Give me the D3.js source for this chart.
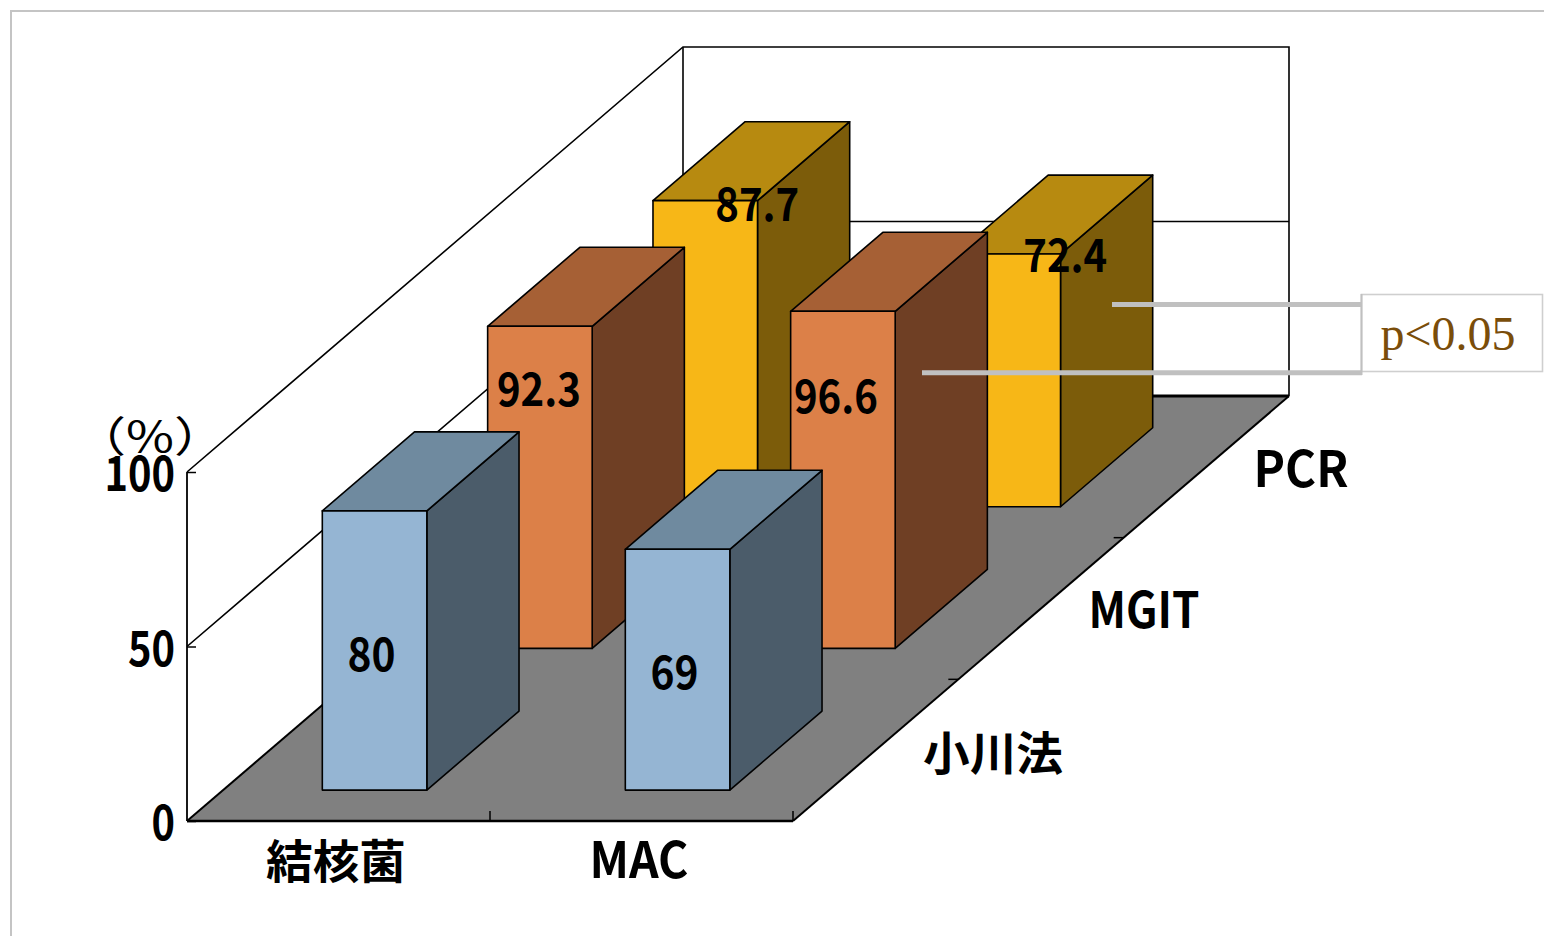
<!DOCTYPE html>
<html><head><meta charset="utf-8">
<script src="https://cdnjs.cloudflare.com/ajax/libs/d3/7.8.5/d3.min.js"></script>
<style>
html,body{margin:0;padding:0;background:#fff;overflow:hidden}
svg{display:block}
text{font-family:"Noto Sans CJK JP","Noto Sans",sans-serif;font-weight:700;fill:#000}
</style></head><body>
<svg id="chart" width="1544" height="936"></svg>
<script>
// ---- data ----
const categories = ["結核菌", "MAC"];
const series = ["小川法", "MGIT", "PCR"];
const ogawaValues = [80, 69];
const mgitValues = [92.3, 96.6];
const pcrValues = [87.7, 72.4];
const yTicks = [0, 50, 100];
const yUnit = "（%）";
const annotation = "p<0.05";

// ---- styles and layout ----
const faceColors = [
  {front:"#95b5d3", top:"#6f8a9f", side:"#4b5c6a"},
  {front:"#dc8048", top:"#a66035", side:"#6f3f24"},
  {front:"#f7b717", top:"#b78a10", side:"#7c5c0a"}
];
const labelOffsets = [
  [[-3,143],[-3,123]],
  [[-1,63],[-7,85]],
  [[52,3],[57,1]]
];
const allValues = [ogawaValues, mgitValues, pcrValues];
const origin = {x:187, y:821};
const plotW = 606, wallH = 349;
const depthVec = {x:496, y:-425};

const svg = d3.select("#chart");

const xBand = d3.scaleBand().domain(categories).range([0, plotW]).paddingInner(0.655).paddingOuter(0.3275);
const zBand = d3.scaleBand().domain(series).range([-0.001, 0.999]).paddingInner(0.4425).paddingOuter(0.2212);
const h = d3.scaleLinear().domain([0,100]).range([0, wallH]);
const y = d3.scaleLinear().domain([0,100]).range([origin.y, origin.y - wallH]);

const P = (px, z, v) => [origin.x + px + z*depthVec.x, origin.y + z*depthVec.y - h(v)];
const line = pts => "M" + pts.map(p=>p.join(",")).join("L") + "Z";
const open = pts => "M" + pts.map(p=>p.join(",")).join("L");

// panel border
svg.append("path").attr("d","M11,936V11H1544").attr("stroke","#c4c4c4").attr("stroke-width",2).attr("fill","none");

// walls + floor
const axes = svg.append("g").attr("fill","none").attr("stroke","#000");
axes.append("path").attr("d", line([P(0,0,0),P(plotW,0,0),P(plotW,1,0),P(0,1,0)])).attr("fill","#808080").attr("stroke","none");
axes.append("path").attr("stroke-width",1.6).attr("d", open([P(0,0,100),P(0,1,100),P(plotW,1,100),P(plotW,1,0)]));
axes.append("path").attr("stroke-width",1.6).attr("d", open([P(0,0,50),P(0,1,50),P(plotW,1,50)]));
axes.append("path").attr("stroke-width",1.6).attr("d", open([P(0,1,100),P(0,1,0)]));
axes.append("path").attr("stroke-width",3).attr("d", open([P(0,1,0),P(plotW,1,0)]));
axes.append("path").attr("stroke-width",2).attr("d", open([P(0,1,0),P(0,0,0)]));
axes.append("path").attr("stroke-width",2).attr("d", open([P(plotW,0,0),P(plotW,1,0)]));
axes.append("path").attr("stroke-width",2.4).attr("d", open([P(0,0,0),P(plotW,0,0)]));

// y axis
const yAxis = d3.axisLeft(y).tickValues(yTicks).tickSize(-9).tickPadding(12);
const yG = svg.append("g").attr("transform",`translate(${origin.x},0)`).call(yAxis);
yG.select(".domain").remove();
svg.append("path").attr("d",open([P(0,0,0),P(0,0,100)])).attr("stroke","#000").attr("stroke-width",1.8).attr("fill","none");
yG.selectAll(".tick line").attr("stroke","#000").attr("stroke-width",1.5);
yG.selectAll(".tick text").attr("font-size",48).attr("dy","0.39em")
  .attr("textLength",d=>String(d).length*23.5).attr("lengthAdjust","spacingAndGlyphs")
  .style("font-family",'"Noto Sans CJK JP"').attr("fill","#000");

// floor ticks
svg.append("g").selectAll("path").data(d3.range(1, categories.length+1)).join("path")
  .attr("d",i=>{const p=P(plotW*i/categories.length,0,0);return `M${p[0]},${p[1]}v-10`;})
  .attr("stroke","#000").attr("stroke-width",1.5);
svg.append("g").selectAll("path").data(d3.range(1, series.length)).join("path")
  .attr("d",i=>{const p=P(plotW,i/series.length,0);return `M${p[0]},${p[1]}h-10`;})
  .attr("stroke","#000").attr("stroke-width",1.5);

// bars, back to front
const barData = [];
for (let s = series.length-1; s >= 0; s--) categories.forEach((c,i)=>barData.push({s,i,c,name:series[s],v:allValues[s][i]}));
const bars = svg.append("g").attr("stroke","#000").attr("stroke-width",1.6).attr("stroke-linejoin","round");
const bar = bars.selectAll("g").data(barData).join("g");
const x0 = d=>xBand(d.c), x1 = d=>xBand(d.c)+xBand.bandwidth();
const z0 = d=>zBand(d.name), z1 = d=>zBand(d.name)+zBand.bandwidth();
bar.append("path").attr("fill",d=>faceColors[d.s].side)
  .attr("d",d=>line([P(x1(d),z0(d),0),P(x1(d),z1(d),0),P(x1(d),z1(d),d.v),P(x1(d),z0(d),d.v)]));
bar.append("path").attr("fill",d=>faceColors[d.s].top)
  .attr("d",d=>line([P(x0(d),z0(d),d.v),P(x1(d),z0(d),d.v),P(x1(d),z1(d),d.v),P(x0(d),z1(d),d.v)]));
bar.append("path").attr("fill",d=>faceColors[d.s].front)
  .attr("d",d=>line([P(x0(d),z0(d),0),P(x1(d),z0(d),0),P(x1(d),z0(d),d.v),P(x0(d),z0(d),d.v)]));

// value labels on top of all bars
svg.append("g").selectAll("text").data(barData).join("text")
  .attr("x",d=>P(xBand(d.c)+xBand.bandwidth()/2,z0(d),d.v)[0]+labelOffsets[d.s][d.i][0])
  .attr("y",d=>P(0,z0(d),d.v)[1]+labelOffsets[d.s][d.i][1]+17)
  .attr("text-anchor","middle").attr("font-size",46)
  .attr("textLength",d=>String(d.v).includes(".")?84:48)
  .attr("lengthAdjust","spacingAndGlyphs")
  .text(d=>d.v);

// category labels
const categoryLabelPos = [[336,878,46,140],[639,878,50,99]];
svg.append("g").selectAll("text").data(categories).join("text")
  .attr("x",(c,i)=>categoryLabelPos[i][0]).attr("y",(c,i)=>categoryLabelPos[i][1])
  .attr("text-anchor","middle").attr("font-size",(c,i)=>categoryLabelPos[i][2])
  .attr("textLength",(c,i)=>categoryLabelPos[i][3]).attr("lengthAdjust","spacingAndGlyphs")
  .text(c=>c);

// series labels
const seriesLabelPos = [[993,770,46,140],[1144,628,50,111],[1301,487,50,95]];
svg.append("g").selectAll("text").data(series).join("text")
  .attr("x",(d,i)=>seriesLabelPos[i][0]).attr("y",(d,i)=>seriesLabelPos[i][1])
  .attr("text-anchor","middle").attr("font-size",(d,i)=>seriesLabelPos[i][2])
  .attr("textLength",(d,i)=>seriesLabelPos[i][3]).attr("lengthAdjust","spacingAndGlyphs")
  .text(d=>d);

// unit label
svg.append("text").attr("x",150).attr("y",452).attr("text-anchor","middle")
  .style("font-weight",400).attr("font-size",42).attr("textLength",152).attr("lengthAdjust","spacingAndGlyphs").text(yUnit);

// annotation
const ann = svg.append("g");
ann.append("rect").attr("x",1361.5).attr("y",294.5).attr("width",181).attr("height",77)
  .attr("fill","#fff").attr("stroke","#cfcfcf").attr("stroke-width",1.6);
ann.append("path").attr("d","M1361.5,294V375").attr("stroke","#c0c0c0").attr("stroke-width",2);
ann.append("path").attr("d","M1112,304.5H1361").attr("stroke","#c0c0c0").attr("stroke-width",5);
ann.append("path").attr("d","M922,372.7H1362").attr("stroke","#c0c0c0").attr("stroke-width",5);
ann.append("text").attr("x",1448).attr("y",350).attr("text-anchor","middle")
  .style("font-family",'"Liberation Serif",serif').style("font-weight",400).style("fill","#7a4d0a")
  .attr("font-size",48).text(annotation);
</script>
</body></html>
